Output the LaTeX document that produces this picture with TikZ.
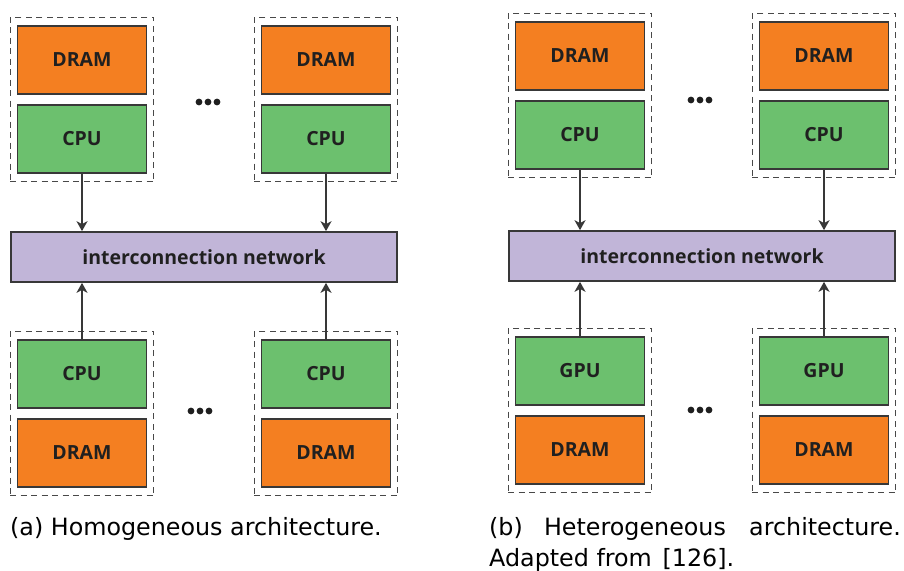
\documentclass[tikz,border=0pt]{standalone}
\usepackage{fontspec}
\setmainfont{DejaVu Sans}
\newfontfamily\boxfont{Open Sans}
\usetikzlibrary{fit,arrows.meta}

\definecolor{memfill}{HTML}{F47F21}
\definecolor{procfill}{HTML}{6CC06E}
\definecolor{netfill}{HTML}{C1B5D8}
\definecolor{edgecol}{HTML}{383838}
\definecolor{labelcol}{HTML}{202020}
\definecolor{dashcol}{HTML}{484848}

\tikzset{
  labelfont/.style={font=\boxfont\bfseries\fontsize{19.5}{21}\selectfont},
  unitbox/.style={draw=edgecol, line width=1.7pt, minimum width=129pt, minimum height=68pt,
    inner sep=0pt, text=labelcol, labelfont},
  membox/.style={unitbox, fill=memfill},
  procbox/.style={unitbox, fill=procfill},
  netbox/.style={draw=edgecol, line width=1.7pt, fill=netfill, minimum width=386pt,
    minimum height=50pt, inner sep=0pt, text=labelcol, labelfont},
  groupbox/.style={draw=dashcol, line width=1.2pt, dash pattern=on 6pt off 4.5pt,
    inner xsep=6.5pt, inner ysep=8pt},
  link/.style={draw=edgecol, line width=1.7pt,
    -{Stealth[length=10pt,width=11pt,inset=3pt]}},
  caption/.style={inner sep=0pt, anchor=base west, font=\fontsize{23.8}{28}\selectfont},
  dotmark/.style={fill=black!88}
}

\begin{document}
\begin{tikzpicture}[x=1pt, y=-1pt]
\useasboundingbox (0,0) rectangle (904,570);
\fill[white] (0,0) rectangle (904,570);

% ---------- (a) homogeneous ----------
\node[netbox] (aNet) at (204,257) {interconnection network};

% upper nodes
\node[membox]  (aUmemL)  at (82,60)  {DRAM};
\node[procbox] (aUcpuL)  at (82,139) {CPU};
\node[groupbox, fit=(aUmemL)(aUcpuL)] (aUgrpL) {};
\node[membox]  (aUmemR)  at (326,60)  {DRAM};
\node[procbox] (aUcpuR)  at (326,139) {CPU};
\node[groupbox, fit=(aUmemR)(aUcpuR)] (aUgrpR) {};

% lower nodes
\node[procbox] (aLcpuL)  at (82,374)  {CPU};
\node[membox]  (aLmemL)  at (82,453)  {DRAM};
\node[groupbox, fit=(aLcpuL)(aLmemL)] (aLgrpL) {};
\node[procbox] (aLcpuR)  at (326,374)  {CPU};
\node[membox]  (aLmemR)  at (326,453)  {DRAM};
\node[groupbox, fit=(aLcpuR)(aLmemR)] (aLgrpR) {};

\draw[link] (aUcpuL.south) -- (aUcpuL.south |- aNet.north);
\draw[link] (aUcpuR.south) -- (aUcpuR.south |- aNet.north);
\draw[link] (aLcpuL.north) -- (aLcpuL.north |- aNet.south);
\draw[link] (aLcpuR.north) -- (aLcpuR.north |- aNet.south);

\coordinate (aDotsU) at (208,102);
\coordinate (aDotsL) at (200,411);
\foreach \c in {aDotsU,aDotsL}
  \foreach \dx in {-9,0,9}
    \fill[dotmark] ([xshift=\dx pt]\c) circle (3.4);

\node[caption] (aCap) at (10,535) {(a) Homogeneous architecture.};

% ---------- (b) heterogeneous ----------
\node[netbox] (bNet) at (702,256) {interconnection network};

\node[membox]  (bUmemL)  at (580,56)  {DRAM};
\node[procbox] (bUcpuL)  at (580,135) {CPU};
\node[groupbox, fit=(bUmemL)(bUcpuL)] (bUgrpL) {};
\node[membox]  (bUmemR)  at (824,56)  {DRAM};
\node[procbox] (bUcpuR)  at (824,135) {CPU};
\node[groupbox, fit=(bUmemR)(bUcpuR)] (bUgrpR) {};

\node[procbox] (bLgpuL)  at (580,371)  {GPU};
\node[membox]  (bLmemL)  at (580,450)  {DRAM};
\node[groupbox, fit=(bLgpuL)(bLmemL)] (bLgrpL) {};
\node[procbox] (bLgpuR)  at (824,371)  {GPU};
\node[membox]  (bLmemR)  at (824,450)  {DRAM};
\node[groupbox, fit=(bLgpuR)(bLmemR)] (bLgrpR) {};

\draw[link] (bUcpuL.south) -- (bUcpuL.south |- bNet.north);
\draw[link] (bUcpuR.south) -- (bUcpuR.south |- bNet.north);
\draw[link] (bLgpuL.north) -- (bLgpuL.north |- bNet.south);
\draw[link] (bLgpuR.north) -- (bLgpuR.north |- bNet.south);

\coordinate (bDotsU) at (700,100);
\coordinate (bDotsL) at (700,410);
\foreach \c in {bDotsU,bDotsL}
  \foreach \dx in {-9,0,9}
    \fill[dotmark] ([xshift=\dx pt]\c) circle (3.4);

% justified two-line caption
\node[caption] (bCapA) at (489,535) {(b)};
\node[caption, anchor=base] (bCapB) at (635,535) {Heterogeneous};
\node[caption, anchor=base east] (bCapC) at (901,535) {architecture.};
\node[caption] (bCapD) at (489,566) {Adapted from\hspace{0.45em}[126].};
\end{tikzpicture}
\end{document}
